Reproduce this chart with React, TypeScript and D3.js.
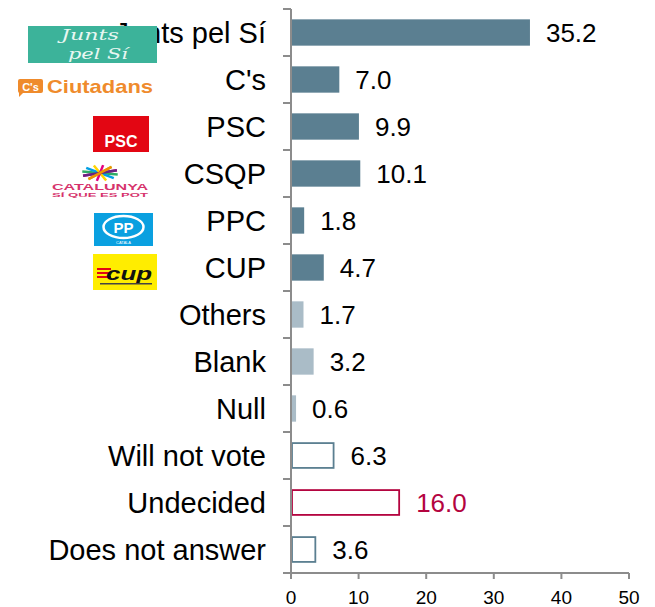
import React from "react";
import * as d3 from "d3";

const categories = ["Junts pel Sí", "C's", "PSC", "CSQP", "PPC", "CUP", "Others", "Blank", "Null", "Will not vote", "Undecided", "Does not answer"];
const values = [35.2, 7.0, 9.9, 10.1, 1.8, 4.7, 1.7, 3.2, 0.6, 6.3, 16.0, 3.6];
const kinds = ["party", "party", "party", "party", "party", "party", "other", "other", "other", "outline", "highlight", "outline"];
const xTicks = [0, 10, 20, 30, 40, 50];

const W = 655, H = 607;
const DARK = "#5b7f91";
const LIGHT = "#aabcc7";
const CRIMSON = "#b4043f";
const AXIS = "#8c8c8c";
const FONT = "Liberation Sans, Arial, sans-serif";

function Logos() {
  const star = [
    { a: -20, c: "#e5007e" }, { a: 10, c: "#2fac66" }, { a: 40, c: "#009fe3" },
    { a: 70, c: "#ffd500" }, { a: 100, c: "#e5007e" }, { a: 130, c: "#8cc63f" },
    { a: 160, c: "#662483" }, { a: -50, c: "#f39200" },
  ];
  return (
    <g>
      {/* Junts pel Sí */}
      <rect x={28} y={26} width={129} height={37} fill="#3cb39a" />
      <text x={90} y={40} fill="#e8f7f2" fontFamily="DejaVu Serif, serif" fontStyle="italic" fontSize={15} textAnchor="middle" textLength={58} lengthAdjust="spacingAndGlyphs">Junts</text>
      <text x={98} y={59} fill="#e8f7f2" fontFamily="DejaVu Serif, serif" fontStyle="italic" fontSize={15} textAnchor="middle" textLength={60} lengthAdjust="spacingAndGlyphs">pel Sí</text>
      {/* Ciutadans */}
      <rect x={18} y={79} width={25} height={14} rx={2} fill="#ef8b2c" />
      <path d="M19,92 L19,97 L24,92 Z" fill="#ef8b2c" />
      <text x={30.5} y={90.5} fill="#fff" fontFamily={FONT} fontWeight="bold" fontSize={11} textAnchor="middle">C's</text>
      <text x={47} y={93} fill="#ef8b2c" fontFamily={FONT} fontWeight="bold" fontSize={18.5} textLength={106} lengthAdjust="spacingAndGlyphs">Ciutadans</text>
      {/* PSC */}
      <rect x={93} y={116} width={56} height={36} fill="#e30613" />
      <text x={121} y={147} fill="#fff" fontFamily={FONT} fontWeight="bold" fontSize={16} textAnchor="middle">PSC</text>
      {/* CSQP */}
      {star.map((s, i) => {
        const r = (s.a * Math.PI) / 180;
        const dx = Math.cos(r) * 18, dy = Math.sin(r) * 8;
        return <line key={i} x1={100 - dx} y1={173 - dy} x2={100 + dx} y2={173 + dy} stroke={s.c} strokeWidth={2.5} />;
      })}
      <text x={100} y={190} fill="#d6336c" fontFamily={FONT} fontWeight="bold" fontSize={9} textAnchor="middle" textLength={96} lengthAdjust="spacingAndGlyphs">CATALUNYA</text>
      <text x={100} y={196.5} fill="#d6336c" fontFamily={FONT} fontWeight="bold" fontSize={6} textAnchor="middle" textLength={96} lengthAdjust="spacingAndGlyphs">SÍ QUE ES POT</text>
      {/* PPC */}
      <rect x={94} y={213} width={59} height={33} fill="#0aa0e0" />
      <ellipse cx={123.5} cy={227} rx={20} ry={11} fill="none" stroke="#fff" strokeWidth={2.5} />
      <text x={123.5} y={233} fill="#fff" fontFamily={FONT} fontWeight="bold" fontSize={15} textAnchor="middle">PP</text>
      <text x={123.5} y={244} fill="#fff" fontFamily={FONT} fontSize={4} textAnchor="middle">CATALÀ</text>
      {/* CUP */}
      <rect x={93} y={254} width={64} height={36} fill="#ffed00" />
      <rect x={97} y={268} width={14} height={2} fill="#e30613" />
      <rect x={97} y={272} width={14} height={2} fill="#e30613" />
      <rect x={97} y={276} width={14} height={2} fill="#e30613" />
      <text x={106} y={280} fill="#111" fontFamily={FONT} fontWeight="bold" fontStyle="italic" fontSize={19} textLength={46} lengthAdjust="spacingAndGlyphs">cup</text>
      <rect x={100} y={283} width={52} height={1.5} fill="#444" />
    </g>
  );
}

export default function App() {
  const x = d3.scaleLinear().domain([0, 50]).range([291, 629]);
  const y = d3.scaleBand<string>().domain(categories).range([9, 573]).paddingInner(0.44).paddingOuter(0.22);
  const step = y.step();
  const rowEdges = d3.range(categories.length + 1).map((i) => 9 + i * step);
  const x0 = x(0);
  const bottom = 573;

  return (
    <svg width={W} height={H} style={{ position: "absolute", left: 0, top: 0 }}>
      <rect width={W} height={H} fill="#fff" />
      {categories.map((c, i) => {
        const v = values[i];
        const k = kinds[i];
        const by = y(c)!;
        const bh = y.bandwidth();
        const cy = by + bh / 2;
        const w = x(v) - x0;
        let bar;
        if (k === "party") bar = <rect x={x0 + 1} y={by} width={w} height={bh} fill={DARK} />;
        else if (k === "other") bar = <rect x={x0 + 1} y={by} width={w} height={bh} fill={LIGHT} />;
        else bar = <rect x={x0 + 1} y={by + 0.75} width={w - 1} height={bh - 1.5} fill="#fff" stroke={k === "highlight" ? CRIMSON : DARK} strokeWidth={1.8} />;
        return (
          <g key={c}>
            {bar}
            <text x={x(v) + 17} y={cy + 9} fontFamily={FONT} fontSize={26} fill={k === "highlight" ? CRIMSON : "#000"}>
              {d3.format(".1f")(v)}
            </text>
            <text x={266} y={cy + 10} fontFamily={FONT} fontSize={29} textAnchor="end" fill="#000">
              {c}
            </text>
          </g>
        );
      })}
      <Logos />
      {/* y axis */}
      <line x1={x0} y1={rowEdges[0]} x2={x0} y2={bottom + 6} stroke={AXIS} strokeWidth={2} />
      {rowEdges.map((e, i) => (
        <line key={i} x1={283} x2={x0} y1={e} y2={e} stroke={AXIS} strokeWidth={2} />
      ))}
      {/* x axis */}
      <line x1={x0} x2={x(50)} y1={bottom} y2={bottom} stroke={AXIS} strokeWidth={2} />
      {xTicks.map((t) => (
        <g key={t}>
          <line x1={x(t)} x2={x(t)} y1={bottom} y2={bottom + 6} stroke={AXIS} strokeWidth={2} />
          <text x={x(t)} y={604} fontFamily={FONT} fontSize={19} textAnchor="middle" fill="#000">{t}</text>
        </g>
      ))}
    </svg>
  );
}
